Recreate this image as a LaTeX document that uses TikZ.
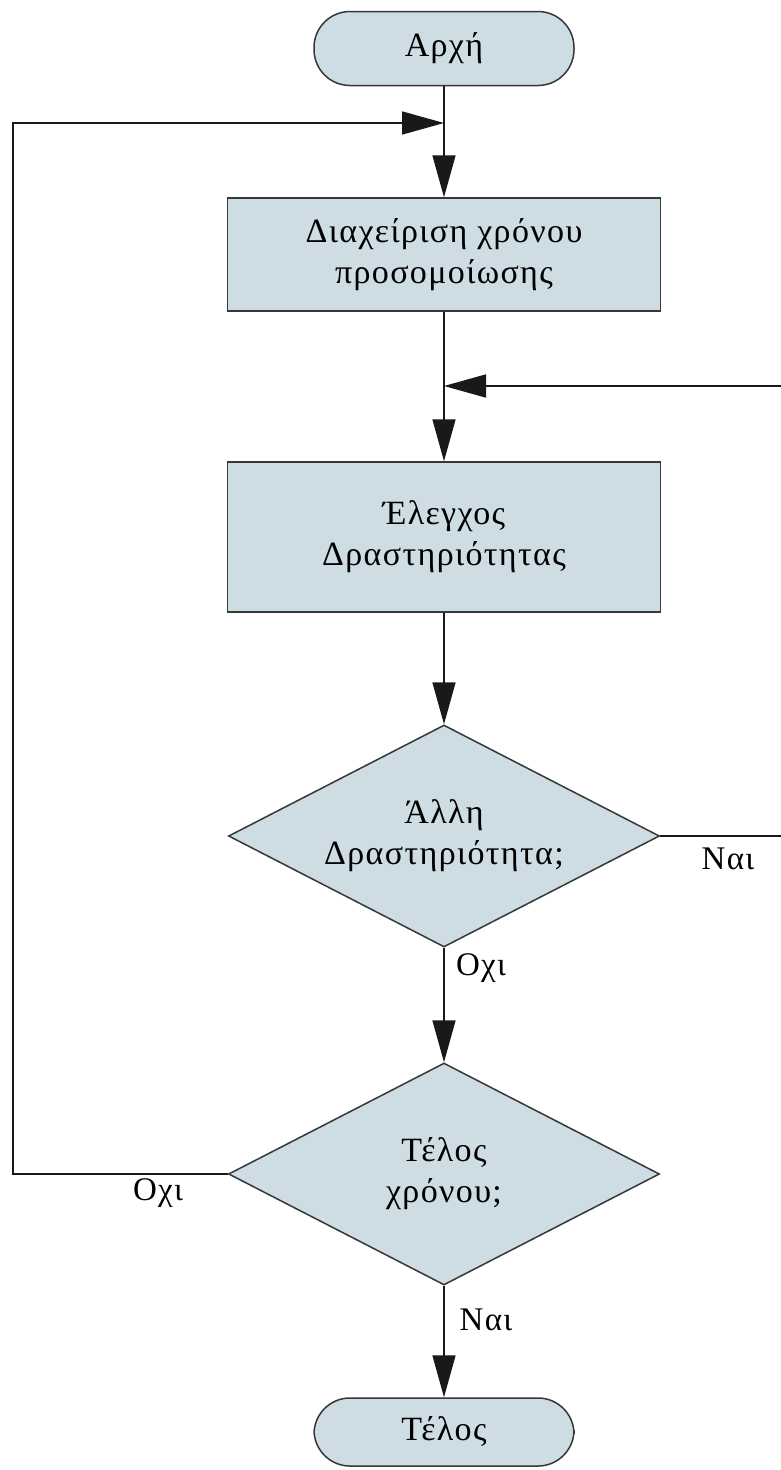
\documentclass[tikz,border=0pt]{standalone}
\usepackage{fontspec}
\setmainfont{Liberation Serif}[LetterSpace=4]
\usetikzlibrary{arrows.meta,shapes.geometric}
\definecolor{boxfill}{RGB}{205,221,227}
\definecolor{edge}{RGB}{55,55,55}
\tikzset{
  base/.style={draw=edge, line width=1.5pt, fill=boxfill, align=center,
    font=\fontsize{34}{41}\selectfont, inner sep=0pt},
  terminal/.style={base, rectangle, rounded corners=36pt,
    minimum width=260pt, minimum height=74pt},
  process/.style={base, rectangle, minimum width=433pt},
  decision/.style={base, diamond, shape aspect=2,
    minimum width=431pt, minimum height=222pt},
  flow/.style={draw=black!90, line width=1.6pt,
    -{Triangle[length=42pt,width=23pt]}},
  lbl/.style={font=\fontsize{33}{36}\selectfont, inner sep=0pt}
}
\begin{document}
\begin{tikzpicture}[x=1pt,y=-1pt]
  \useasboundingbox[fill=white] (0,0) rectangle (781,1470);

  % main column
  \node[terminal] (start) at (444,48.5) {Αρχή};
  \coordinate (jtop) at (444,123);
  \node[process, minimum height=113pt] (time) at (444,254.5)
    {Διαχείριση χρόνου\\προσομοίωσης};
  \coordinate (jmid) at (444,386);
  \node[process, minimum height=150pt] (check) at (444,537)
    {Έλεγχος\\Δραστηριότητας};
  \node[decision] (more) at (444,836) {Άλλη\\Δραστηριότητα;};
  \node[decision] (done) at (444,1174) {Τέλος\\χρόνου;};
  \node[terminal, minimum height=68pt] (stop) at (444,1432) {Τέλος};

  % turning points of the two loops
  \coordinate (lbot) at (13,1174);
  \coordinate (ltop) at (13,123);
  \coordinate (rbot) at (783,836);
  \coordinate (rtop) at (783,386);

  % forward flow
  \draw[flow] (start) -- (time);
  \draw[flow] (time) -- (check);
  \draw[flow] (check) -- (more);
  \draw[flow] (more) -- (done);
  \draw[flow] (done) -- (stop);

  % loops back
  \draw[flow] (done.west) -- (lbot) -- (ltop) -- (jtop);
  \draw[flow] (more.east) -- (rbot) -- (rtop) -- (jmid);

  % branch labels
  \node[lbl] (yes1) at (728,859) {Ναι};
  \node[lbl] (no1) at (481,968) {Οχι};
  \node[lbl] (no2) at (158,1193) {Οχι};
  \node[lbl] (yes2) at (486,1320) {Ναι};
\end{tikzpicture}
\end{document}
